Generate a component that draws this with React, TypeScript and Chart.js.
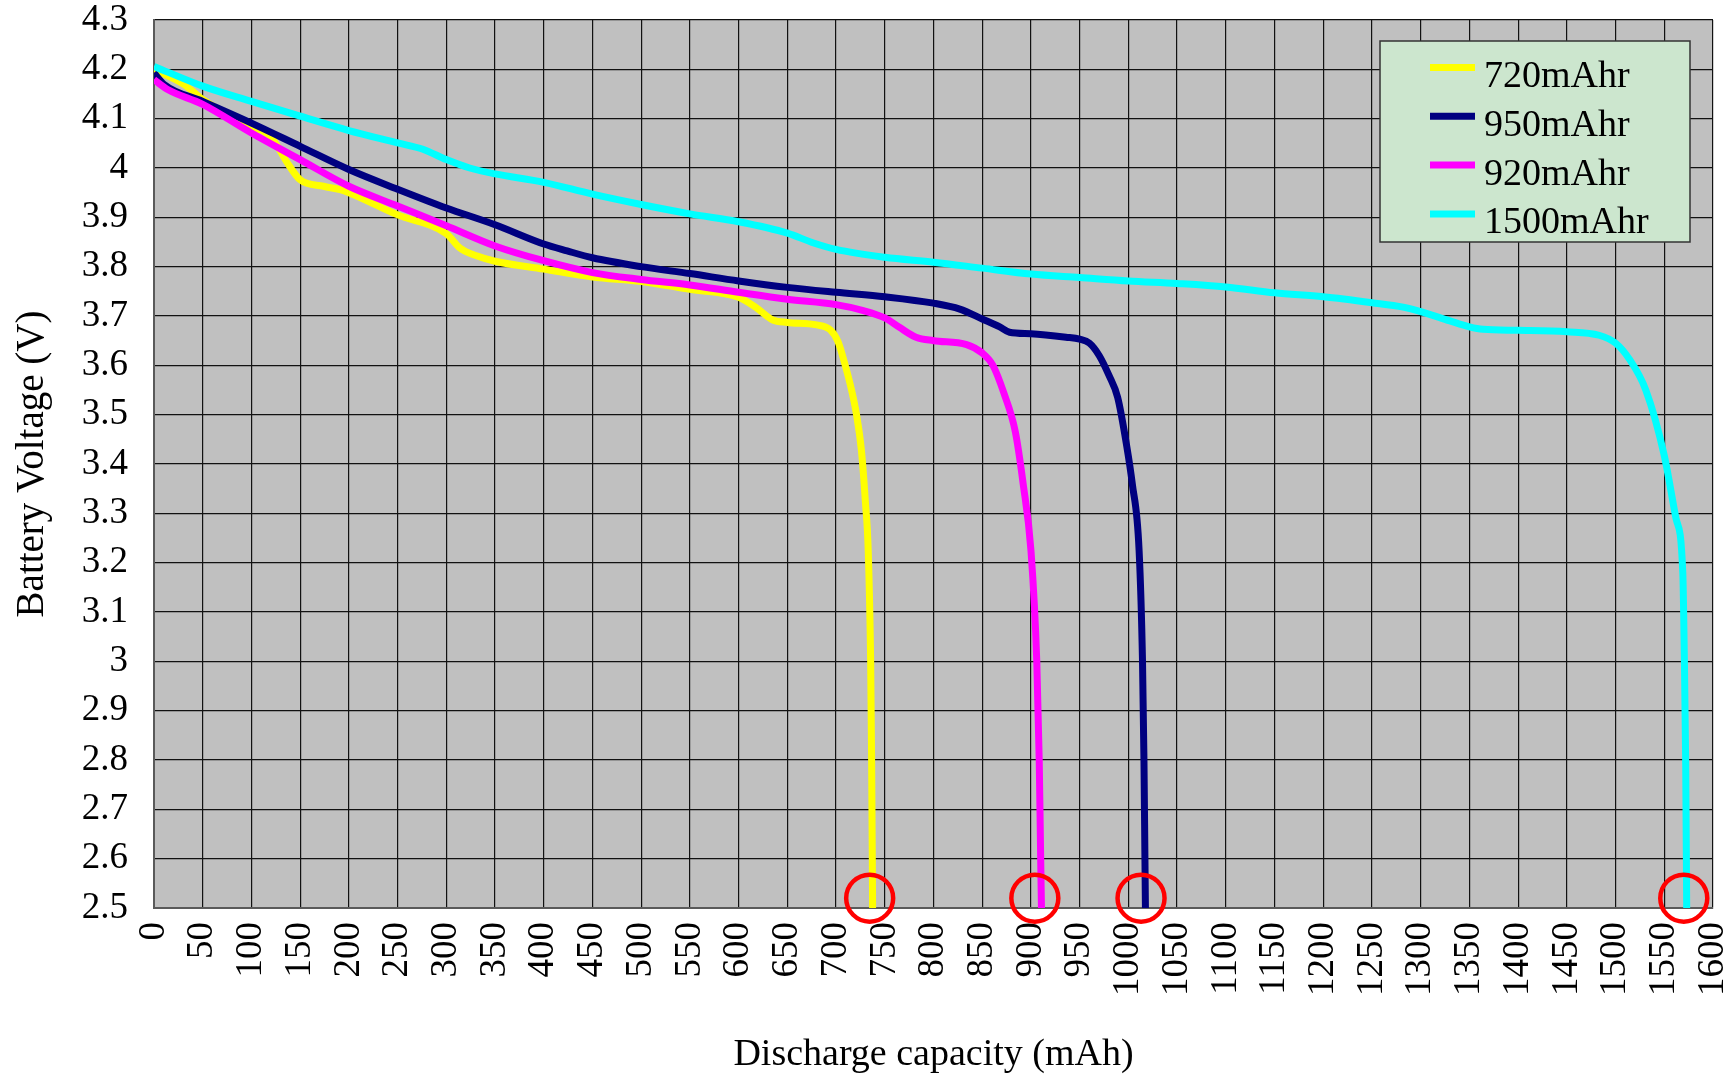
import React, { useEffect, useRef } from "react";
import { Chart, registerables } from "chart.js";

Chart.register(...registerables);

const FONT = "'Liberation Serif', 'Times New Roman', serif";

// ---- Series labels & colours ----
const seriesLabels = ["720mAhr", "950mAhr", "920mAhr", "1500mAhr"];
const seriesColors = ["#FFFF00", "#000080", "#FF00FF", "#00FFFF"];

// ---- 720mAhr (yellow) ----
const cap720 = [0, 31, 50, 82, 100, 112, 122, 136, 150, 174, 191, 200, 250, 300, 314, 331, 350, 400, 450, 500, 550, 600, 618, 635, 650, 680, 694, 702, 709, 716, 721, 726, 730, 733, 735.5, 736.5, 737.2, 737.5];
const volt720 = [4.2, 4.169, 4.139, 4.101, 4.081, 4.075, 4.058, 4.013, 3.976, 3.963, 3.956, 3.95, 3.905, 3.867, 3.838, 3.822, 3.811, 3.795, 3.779, 3.77, 3.754, 3.738, 3.717, 3.692, 3.687, 3.682, 3.672, 3.648, 3.603, 3.549, 3.5, 3.428, 3.326, 3.225, 3.0, 2.8, 2.6, 2.5];

// ---- 950mAhr (navy) ----
const cap950 = [0, 10, 50, 100, 150, 200, 250, 300, 350, 400, 424, 450, 500, 550, 600, 650, 700, 750, 800, 827, 850, 868, 878, 900, 936, 950, 960, 970, 980, 989, 998, 1004, 1011, 1014.5, 1016, 1017, 1017.5];
const volt950 = [4.193, 4.17, 4.135, 4.091, 4.044, 3.997, 3.957, 3.919, 3.885, 3.846, 3.832, 3.818, 3.8, 3.786, 3.771, 3.758, 3.748, 3.739, 3.726, 3.714, 3.694, 3.678, 3.667, 3.664, 3.657, 3.653, 3.645, 3.62, 3.58, 3.535, 3.44, 3.36, 3.225, 3.0, 2.8, 2.6, 2.5];

// ---- 920mAhr (magenta) ----
const cap920 = [0, 14, 50, 100, 150, 200, 250, 300, 350, 400, 450, 500, 550, 600, 650, 700, 728, 750, 765, 782, 800, 834, 850, 861, 872, 884, 892, 900, 906, 908.5, 910, 910.8];
const volt920 = [4.179, 4.159, 4.129, 4.071, 4.017, 3.963, 3.923, 3.883, 3.842, 3.812, 3.788, 3.774, 3.763, 3.748, 3.734, 3.723, 3.711, 3.696, 3.677, 3.657, 3.65, 3.642, 3.625, 3.6, 3.545, 3.465, 3.36, 3.225, 3.0, 2.8, 2.6, 2.5];

// ---- 1500mAhr (cyan) ----
const cap1500 = [0, 50, 100, 150, 200, 250, 276, 300, 324, 350, 400, 450, 500, 550, 600, 650, 677, 700, 750, 800, 850, 900, 950, 1000, 1050, 1100, 1150, 1200, 1250, 1282, 1300, 1330, 1350, 1364, 1400, 1450, 1483, 1500, 1514, 1531, 1550, 1562, 1569, 1570.5, 1572, 1573];
const volt1500 = [4.206, 4.166, 4.135, 4.105, 4.076, 4.051, 4.038, 4.017, 4.0, 3.988, 3.971, 3.947, 3.926, 3.907, 3.891, 3.868, 3.848, 3.835, 3.819, 3.809, 3.797, 3.785, 3.778, 3.771, 3.766, 3.759, 3.747, 3.739, 3.727, 3.718, 3.709, 3.69, 3.678, 3.673, 3.671, 3.668, 3.661, 3.645, 3.613, 3.55, 3.417, 3.29, 3.18, 3.02, 2.79, 2.5];

// ---- Red end-of-discharge markers ----
const markerCap = [734.5, 904, 1013, 1570];
const markerVolt = [2.52, 2.52, 2.52, 2.52];

// ---- Axes ----
const xMin = 0;
const xMax = 1600;
const xStep = 50;
const yMin = 2.5;
const yMax = 4.3;
const yStep = 0.1;
const xTitle = "Discharge capacity (mAh)";
const yTitle = "Battery Voltage (V)";

const caps = [cap720, cap950, cap920, cap1500];
const volts = [volt720, volt950, volt920, volt1500];
const drawOrder = [4, 3, 2, 1];

const toPoints = (xs: number[], ys: number[]) => xs.map((x, i) => ({ x, y: ys[i] }));

const zeroPadding = () => ({ left: 0, top: 0, right: 0, bottom: 0 });

const plotBgPlugin = {
  id: "plotBg",
  beforeDraw(chart: any) {
    const { ctx, chartArea } = chart;
    ctx.save();
    ctx.fillStyle = "#C0C0C0";
    ctx.fillRect(chartArea.left, chartArea.top, chartArea.right - chartArea.left, chartArea.bottom - chartArea.top);
    ctx.restore();
  },
};

const boxLegendPlugin = {
  id: "boxLegend",
  afterDraw(chart: any) {
    const { ctx, chartArea } = chart;
    const bx = chartArea.right - 333;
    const by = chartArea.top + 21;
    const bw = 310;
    const bh = 201;
    ctx.save();
    ctx.fillStyle = "#CCE6CE";
    ctx.fillRect(bx, by, bw, bh);
    ctx.strokeStyle = "#333333";
    ctx.lineWidth = 1.5;
    ctx.strokeRect(bx, by, bw, bh);
    ctx.font = `38px ${FONT}`;
    ctx.textBaseline = "alphabetic";
    ctx.textAlign = "left";
    chart.data.datasets.slice(0, 4).forEach((ds: any, i: number) => {
      const ly = by + 26.5 + 48.8 * i;
      ctx.strokeStyle = ds.borderColor;
      ctx.lineWidth = 7;
      ctx.lineCap = "butt";
      ctx.beginPath();
      ctx.moveTo(bx + 50, ly);
      ctx.lineTo(bx + 95, ly);
      ctx.stroke();
      ctx.fillStyle = "#000000";
      ctx.fillText(ds.label, bx + 104, by + 46 + 48.8 * i);
    });
    ctx.restore();
  },
};

export default function App() {
  const canvasRef = useRef<HTMLCanvasElement | null>(null);

  useEffect(() => {
    if (!canvasRef.current) return;
    const datasets: any[] = seriesLabels.map((label, i) => ({
      label,
      data: toPoints(caps[i], volts[i]),
      borderColor: seriesColors[i],
      backgroundColor: seriesColors[i],
      borderWidth: 7,
      pointRadius: 0,
      fill: false,
      cubicInterpolationMode: "monotone",
      borderJoinStyle: "round",
      order: drawOrder[i],
    }));
    datasets.push({
      label: "markers",
      data: toPoints(markerCap, markerVolt),
      showLine: false,
      pointRadius: 23.5,
      pointHoverRadius: 23.5,
      pointBorderWidth: 4.5,
      pointBorderColor: "#FF0000",
      pointBackgroundColor: "rgba(0,0,0,0)",
      borderColor: "#FF0000",
      clip: false,
      order: 0,
    });

    const chart = new Chart(canvasRef.current, {
      type: "line",
      data: { datasets },
      options: {
        animation: false,
        responsive: false,
        devicePixelRatio: 1,
        layout: { autoPadding: false, padding: { left: 0, top: 20, right: 20, bottom: 0 } },
        plugins: {
          legend: { display: false },
          tooltip: { enabled: false },
        },
        scales: {
          x: {
            type: "linear",
            min: xMin,
            max: xMax,
            ticks: {
              stepSize: xStep,
              autoSkip: false,
              minRotation: 90,
              maxRotation: 90,
              padding: 14,
              color: "#000000",
              font: { family: FONT, size: 37 },
              callback: (v: any) => String(v),
            },
            grid: { color: "#111111", lineWidth: 1.2, drawTicks: false },
            border: { display: true, color: "#5a5a5a", width: 2 },
            title: {
              display: true,
              text: xTitle,
              color: "#000000",
              font: { family: FONT, size: 38, lineHeight: 1.0 },
              padding: { top: 0, bottom: 0 },
            },
            afterFit: (scale: any) => {
              scale.height = 166;
              scale.paddingLeft = 0;
              scale.paddingRight = 0;
              scale.paddingTop = 0;
              scale.paddingBottom = 0;
              scale.getPadding = zeroPadding;
            },
          },
          y: {
            type: "linear",
            min: yMin,
            max: yMax,
            ticks: {
              stepSize: yStep,
              padding: 26,
              color: "#000000",
              font: { family: FONT, size: 37 },
              callback: (v: any) => String(Math.round(Number(v) * 10) / 10),
            },
            grid: { color: "#111111", lineWidth: 1.2, drawTicks: false },
            border: { display: true, color: "#5a5a5a", width: 2 },
            title: {
              display: true,
              text: yTitle,
              color: "#000000",
              font: { family: FONT, size: 39 },
              padding: { top: 9, bottom: 0 },
            },
            afterFit: (scale: any) => {
              scale.width = 154;
              scale.paddingLeft = 0;
              scale.paddingRight = 0;
              scale.paddingTop = 0;
              scale.paddingBottom = 0;
              scale.getPadding = zeroPadding;
            },
          },
        },
      } as any,
      plugins: [plotBgPlugin, boxLegendPlugin],
    });
    return () => chart.destroy();
  }, []);

  return (
    <div style={{ position: "fixed", left: 0, top: 0, width: 1733, height: 1074, background: "#ffffff" }}>
      <canvas ref={canvasRef} width={1733} height={1074} style={{ display: "block" }} />
    </div>
  );
}
